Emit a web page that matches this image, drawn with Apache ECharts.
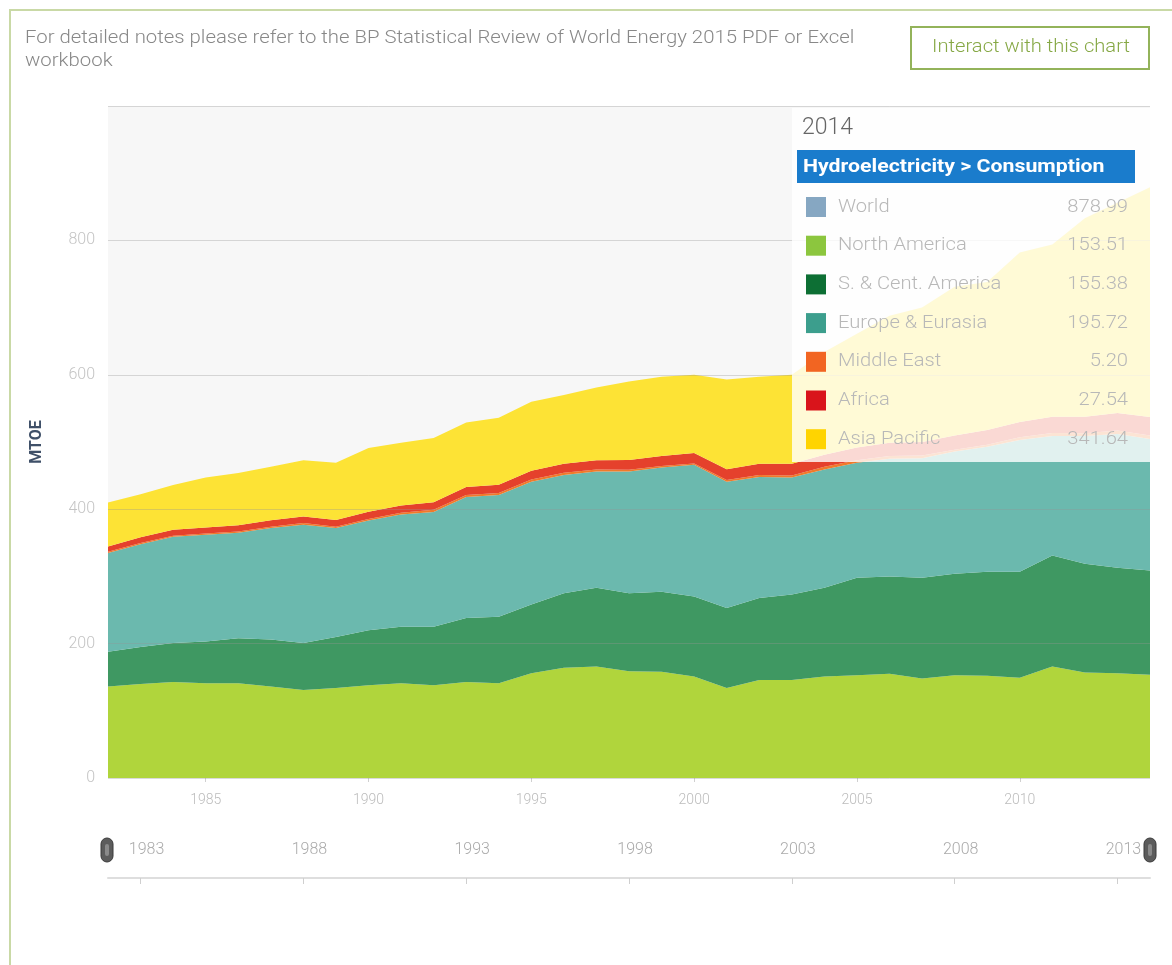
<!DOCTYPE html>
<html>
<head>
<meta charset="utf-8">
<title>Hydroelectricity consumption by region</title>
<script src="https://cdn.jsdelivr.net/npm/echarts@6/dist/echarts.min.js"></script>
<style>
  html, body { margin: 0; padding: 0; background: #ffffff; }
  #chart { width: 1172px; height: 965px; }
</style>
</head>
<body>
<div id="chart"></div>
<script>
// Hydroelectricity consumption, million tonnes oil equivalent
const years = ['1982','1983','1984','1985','1986','1987','1988','1989','1990','1991','1992',
  '1993','1994','1995','1996','1997','1998','1999','2000','2001','2002','2003','2004','2005',
  '2006','2007','2008','2009','2010','2011','2012','2013','2014'];

const northAmerica = [136, 140, 143, 141, 141, 136, 131, 134, 138, 141, 138, 143, 141, 156, 164,
  166, 159, 158, 151, 134, 146, 146, 151, 153, 155, 148, 153, 152, 149, 166, 157, 156, 153.51];
const southCentAmerica = [52, 55, 58, 62, 67, 70, 70, 76, 82, 84, 87, 95, 99, 102, 111, 117, 116,
  119, 119, 119, 122, 127, 132, 145, 145, 150, 151, 155, 158, 165, 162, 157, 155.38];
const europeEurasia = [147, 153, 158, 159, 157, 166, 176, 162, 163, 167, 171, 180, 181, 183, 176,
  173, 181, 185, 196, 188, 180, 174, 176, 171, 175, 178, 182, 186, 196, 178, 190, 199, 195.72];
const middleEast = [1.5, 1.6, 1.5, 1.7, 1.8, 2.0, 2.3, 2.0, 2.3, 2.6, 3.0, 3.1, 3.0, 3.2, 3.1, 3.0,
  2.7, 2.2, 2.0, 2.4, 2.8, 3.2, 4.0, 4.0, 4.2, 4.0, 2.6, 2.8, 3.9, 4.5, 4.0, 5.0, 5.20];
const africa = [8, 8.5, 9, 9, 9.5, 9.5, 10, 10, 11, 11, 11.5, 12, 12.5, 13, 13.5, 14, 14.5, 15, 15.5,
  16, 17, 17.5, 18, 19, 19.5, 20, 21, 22, 23, 24, 24.5, 26, 27.54];
const asiaPacific = [65.5, 64, 66.5, 74.3, 77.7, 79.5, 83.7, 85, 94.7, 93.4, 95.5, 95.9, 99.5, 102.8,
  102.4, 108, 116.8, 117.8, 116.5, 133.6, 129.2, 132.3, 153, 169, 189.3, 200, 221.4, 220.2, 252.1,
  256.5, 295.5, 313, 341.64];

const xTickYears = ['1985', '1990', '1995', '2000', '2005', '2010'];
const sliderTickYears = ['1983', '1988', '1993', '1998', '2003', '2008', '2013'];

const regionNames = ['North America', 'S. & Cent. America', 'Europe & Eurasia',
  'Middle East', 'Africa', 'Asia Pacific'];
const regionValues = [northAmerica, southCentAmerica, europeEurasia, middleEast, africa, asiaPacific];
const areaColors = ['#b0d53c', '#3f9862', '#6bb9ae', '#f07a2a', '#e5412c', '#fde335'];
const keyColors = ['#8cc63e', '#0d6f34', '#3c9e8d', '#f26522', '#d9141b', '#ffd400'];
const worldColor = '#86a7c2';

const FONT = 'Roboto, "Liberation Sans", sans-serif';
const WIDE = 1.12; // horizontal stretch applied to the panel and header texts

const chart = echarts.init(document.getElementById('chart'), null, { renderer: 'canvas' });

const series = regionNames.map((name, i) => ({
  name: name,
  type: 'line',
  stack: 'total',
  data: regionValues[i],
  symbol: 'none',
  lineStyle: { width: 0 },
  areaStyle: { color: areaColors[i], opacity: 1 },
  itemStyle: { color: areaColors[i] },
  silent: true,
  z: 2
}));

// Readout panel for the last year
const last = years.length - 1;
const lastYear = years[last];
const worldLast = regionValues.reduce((s, arr) => s + arr[last], 0);
const rows = [{ name: 'World', value: worldLast, color: worldColor }].concat(
  regionNames.map((n, i) => ({ name: n, value: regionValues[i][last], color: keyColors[i] })));

const panelElems = [
  { type: 'rect', shape: { x: 792, y: 108, width: 360, height: 354 },
    style: { fill: 'rgba(255,255,255,0.8)' }, z: 100 },
  { type: 'text', x: 802, y: 128, z: 101,
    style: { text: lastYear, fill: '#666', font: '300 23px ' + FONT, verticalAlign: 'middle' } },
  { type: 'rect', shape: { x: 797, y: 150, width: 338, height: 33 },
    style: { fill: '#1a7ccc' }, z: 101 },
  { type: 'text', x: 803, y: 167, z: 102, scaleX: WIDE,
    style: { text: 'Hydroelectricity > Consumption', fill: '#ffffff',
      font: 'bold 19px ' + FONT, verticalAlign: 'middle' } }
];
rows.forEach((r, k) => {
  const cy = 207 + k * 38.7;
  panelElems.push(
    { type: 'rect', shape: { x: 806, y: cy - 10, width: 20, height: 20 },
      style: { fill: r.color }, z: 101 },
    { type: 'text', x: 838, y: cy, z: 101, scaleX: WIDE,
      style: { text: r.name, fill: '#b8b8b8', font: '300 18px ' + FONT, verticalAlign: 'middle' } },
    { type: 'text', x: 1128, y: cy, z: 101, scaleX: WIDE,
      style: { text: r.value.toFixed(2), fill: '#b8b8b8', font: '300 18px ' + FONT,
        align: 'right', verticalAlign: 'middle' } }
  );
});

// Range handles of the year selector
function handle(cx) {
  return [
    { type: 'rect', shape: { x: cx - 6, y: 838, width: 12, height: 24, r: 6 },
      style: { fill: '#5c5c5c', stroke: '#3a3a3a', lineWidth: 1 }, z: 50 },
    { type: 'rect', shape: { x: cx - 2, y: 844, width: 4, height: 12, r: 2 },
      style: { fill: '#8a8a8a' }, z: 51 }
  ];
}

const graphic = [
  // outer frame
  { type: 'polyline', shape: { points: [[10, 965], [10, 10], [1172, 10]] },
    style: { stroke: '#c9d9a6', lineWidth: 2, fill: null }, z: 1 },
  { type: 'text', x: 25, y: 27, z: 10, scaleX: 1.13,
    style: { text: 'For detailed notes please refer to the BP Statistical Review of World Energy 2015 PDF or Excel\nworkbook',
      fill: '#888888', font: '300 18px ' + FONT, lineHeight: 23 } },
  { type: 'rect', shape: { x: 911, y: 27, width: 238, height: 42 },
    style: { fill: '#ffffff', stroke: '#93b35a', lineWidth: 2 }, z: 10 },
  { type: 'text', x: 1031, y: 47, z: 11, scaleX: WIDE,
    style: { text: 'Interact with this chart', fill: '#86a845', font: '300 18px ' + FONT,
      align: 'center', verticalAlign: 'middle' } }
].concat(panelElems, handle(107), handle(1150));

const option = {
  animation: false,
  backgroundColor: '#ffffff',
  textStyle: { fontFamily: FONT },
  grid: [
    { left: 108, right: 22, top: 106, bottom: 187, show: true,
      backgroundColor: '#f7f7f7', borderWidth: 0 },
    { left: 108, right: 22, top: 877, height: 1 }
  ],
  xAxis: [
    {
      type: 'category', gridIndex: 0, data: years, boundaryGap: false,
      axisLine: { show: false },
      axisTick: { show: true, length: 4, alignWithLabel: true,
        interval: (i, v) => xTickYears.includes(v), lineStyle: { color: '#d0d0d0' } },
      axisLabel: { interval: (i, v) => xTickYears.includes(v), color: '#bcbcbc',
        fontSize: 14, fontWeight: 300, margin: 15 },
      splitLine: { show: false }
    },
    {
      type: 'category', gridIndex: 1, data: years, boundaryGap: false,
      axisLine: { show: true, lineStyle: { color: '#dedede', width: 2 } },
      axisTick: { show: true, inside: false, length: 6,
        interval: (i, v) => sliderTickYears.includes(v), lineStyle: { color: '#cfcfcf' } },
      axisLabel: { inside: true, margin: 20, color: '#aaaaaa', fontSize: 16, fontWeight: 300,
        interval: (i, v) => sliderTickYears.includes(v), padding: [0, 0, 0, 12] },
      splitLine: { show: false }
    }
  ],
  yAxis: [
    {
      type: 'value', gridIndex: 0, min: 0, max: 1000, interval: 200, z: 3,
      name: 'MTOE', nameLocation: 'middle', nameGap: 63, nameRotate: 90,
      nameTextStyle: { color: '#3f5068', fontWeight: 'bold', fontSize: 16 },
      axisLine: { show: false }, axisTick: { show: false },
      axisLabel: { color: '#c4c4c4', fontSize: 16, fontWeight: 300, margin: 13, showMaxLabel: false },
      splitLine: { show: true, lineStyle: { color: 'rgba(150,150,150,0.35)', width: 1 } }
    },
    { type: 'value', gridIndex: 1, show: false, min: 0, max: 1 }
  ],
  series: series,
  graphic: graphic
};

chart.setOption(option);
</script>
</body>
</html>
